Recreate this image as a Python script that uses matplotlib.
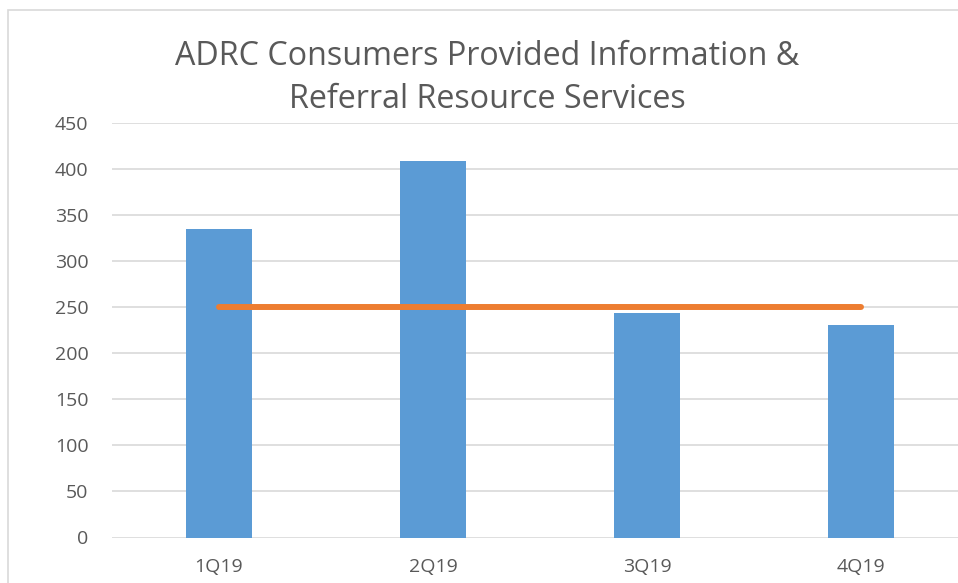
import matplotlib.pyplot as plt
from matplotlib.patches import Rectangle

quarters = ['1Q19', '2Q19', '3Q19', '4Q19']
consumers = [335, 408, 244, 230]
target = [250, 250, 250, 250]
y_ticks = [0, 50, 100, 150, 200, 250, 300, 350, 400, 450]

plt.rcParams['font.family'] = ['Open Sans', 'DejaVu Sans']
text_color = '#595959'

fig = plt.figure(figsize=(9.58, 5.83), dpi=100)
# chart frame (cut off at right and bottom in the reference)
fig.patches.append(Rectangle((8 / 958, -0.05), 1.0, 1 - 10 / 583 + 0.05,
                             transform=fig.transFigure, fill=False,
                             edgecolor='#D9D9D9', linewidth=1.2))

ax = fig.add_axes([112 / 958, 1 - 537.5 / 583, 856 / 958, (537.5 - 122.7) / 583])
x = range(len(quarters))
ax.bar(x, consumers, width=0.313, color='#5B9BD5', zorder=2)
ax.plot(x, target, color='#ED7D31', linewidth=4.3, solid_capstyle='round', zorder=3)

ax.set_xlim(-0.5, 3.5)
ax.set_ylim(0, 450)
ax.set_yticks(y_ticks)
ax.set_xticks(list(x))
ax.set_xticklabels(quarters)
ax.grid(axis='y', color='#D9D9D9', linewidth=1.2, zorder=0)
for s in ax.spines.values():
    s.set_visible(False)
ax.tick_params(axis='both', length=0, labelsize=14, labelcolor=text_color)
ax.tick_params(axis='y', pad=17)
ax.tick_params(axis='x', pad=15)

fig.text(0.509, 1 - 40 / 583, 'ADRC Consumers Provided Information &\nReferral Resource Services',
         ha='center', va='top', fontsize=23.2, color=text_color, linespacing=1.4)

fig.savefig('out.png', dpi=100)
